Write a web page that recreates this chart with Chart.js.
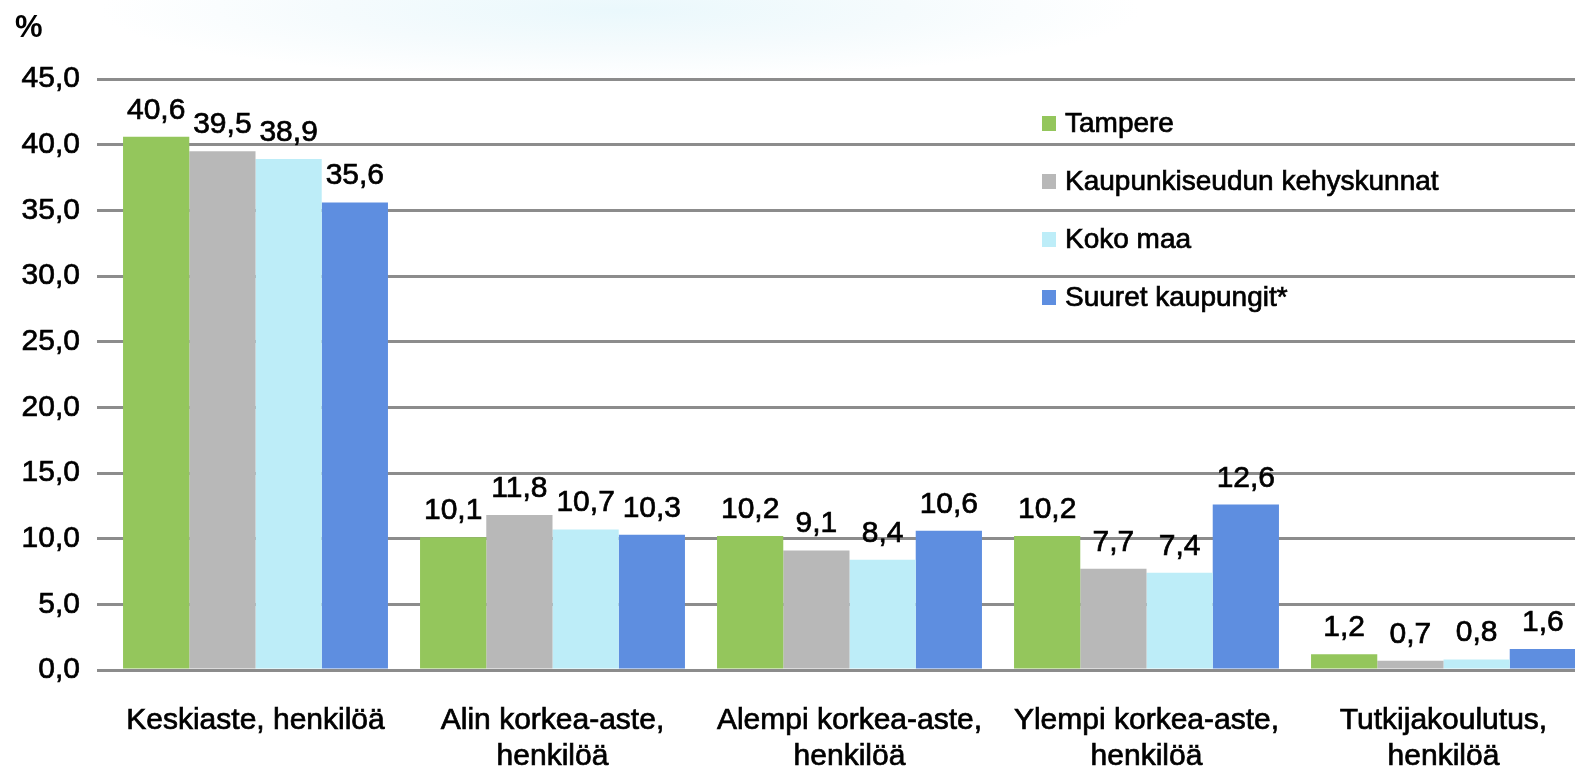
<!DOCTYPE html>
<html>
<head>
<meta charset="utf-8">
<script src="https://cdn.jsdelivr.net/npm/chart.js@4"></script>
<style>
  html, body { margin: 0; padding: 0; overflow: hidden; }
  body {
    width: 1575px; height: 766px;
    background: radial-gradient(ellipse 520px 70px at 620px 10px, #eaf8fc 0%, #f5fbfd 55%, #ffffff 100%);
  }
  #wrap { position: absolute; left: 0; top: 0; width: 1600px; height: 766px; }
</style>
</head>
<body>
<div id="wrap"><canvas id="chart"></canvas></div>
<script>
const kategoriat = [
  "Keskiaste, henkilöä",
  ["Alin korkea-aste,", "henkilöä"],
  ["Alempi korkea-aste,", "henkilöä"],
  ["Ylempi korkea-aste,", "henkilöä"],
  ["Tutkijakoulutus,", "henkilöä"],
];

const sarjat = ["Tampere", "Kaupunkiseudun kehyskunnat", "Koko maa", "Suuret kaupungit*"];
const värit = ["#94c65c", "#b8b8b8", "#bdedf8", "#5e8ee0"];

const tampere = [40.6, 10.1, 10.2, 10.2, 1.2];
const kehyskunnat = [39.5, 11.8, 9.1, 7.7, 0.7];
const kokoMaa = [38.9, 10.7, 8.4, 7.4, 0.8];
const suuretKaupungit = [35.6, 10.3, 10.6, 12.6, 1.6];

const yTicks = [0, 5, 10, 15, 20, 25, 30, 35, 40, 45];

const fontti = "'Liberation Sans', Arial, sans-serif";
const luku = (v) => v.toFixed(1).replace(".", ",");

function teksti(ctx, s, x, y) {
  ctx.strokeText(s, x, y);
  ctx.fillText(s, x, y);
}

// arvot palkkien päälle, oma selite ja %-otsikko
const omaPiirto = {
  id: "omaPiirto",
  afterDatasetsDraw(chart) {
    const ctx = chart.ctx;
    const ca = chart.chartArea;
    ctx.save();
    ctx.fillStyle = "#000";
    ctx.strokeStyle = "#000";
    ctx.lineWidth = 0.7;
    ctx.textAlign = "center";
    ctx.textBaseline = "alphabetic";
    ctx.font = "30px " + fontti;
    chart.data.datasets.forEach((ds, i) => {
      chart.getDatasetMeta(i).data.forEach((bar, j) => {
        teksti(ctx, luku(ds.data[j]), bar.x, bar.y - 18);
      });
    });

    // selite
    ctx.textAlign = "left";
    ctx.textBaseline = "middle";
    ctx.font = "28px " + fontti;
    chart.data.datasets.forEach((ds, i) => {
      const y = ca.top + 44 + i * 58;
      const x = ca.left + 935;
      ctx.fillStyle = ds.backgroundColor;
      ctx.fillRect(x, y - 7, 14, 15);
      ctx.fillStyle = "#000";
      teksti(ctx, ds.label, x + 23, y + 1);
    });

    ctx.font = "bold 31px " + fontti;
    ctx.textBaseline = "top";
    ctx.fillText("%", 15, 13);
    ctx.restore();
  },
};

new Chart(document.getElementById("chart"), {
  type: "bar",
  data: {
    labels: kategoriat,
    datasets: [tampere, kehyskunnat, kokoMaa, suuretKaupungit].map((d, i) => ({
      label: sarjat[i],
      data: d,
      backgroundColor: värit[i],
      barPercentage: 1,
      categoryPercentage: 0.892,
    })),
  },
  options: {
    responsive: true,
    maintainAspectRatio: false,
    animation: false,
    layout: { padding: { top: 79, right: 8, left: 0, bottom: 0 } },
    plugins: {
      legend: { display: false },
      tooltip: { enabled: false },
    },
    scales: {
      x: {
        grid: { display: false },
        border: { display: false },
        ticks: {
          color: "#000",
          textStrokeColor: "#000",
          textStrokeWidth: 0.7,
          padding: 24,
          font: { family: fontti, size: 30, lineHeight: 1.22 },
          maxRotation: 0,
          autoSkip: false,
        },
        afterFit: (s) => { s.height = 96; },
      },
      y: {
        min: 0,
        max: 45,
        border: { display: false },
        grid: {
          color: (c) => (c.tick && c.tick.value % 5 === 0 ? "#8c8c8c" : "rgba(0,0,0,0)"),
          tickColor: "#8c8c8c",
          lineWidth: 3,
          tickLength: 10,
          drawTicks: true,
        },
        ticks: {
          stepSize: 2.5,
          color: "#000",
          textStrokeColor: "#000",
          textStrokeWidth: 0.7,
          padding: 17,
          font: { family: fontti, size: 30 },
          callback: (v) => (yTicks.includes(v) ? luku(v) : ""),
        },
        afterFit: (s) => { s.width = 107; },
      },
    },
  },
  plugins: [omaPiirto],
});
</script>
</body>
</html>
